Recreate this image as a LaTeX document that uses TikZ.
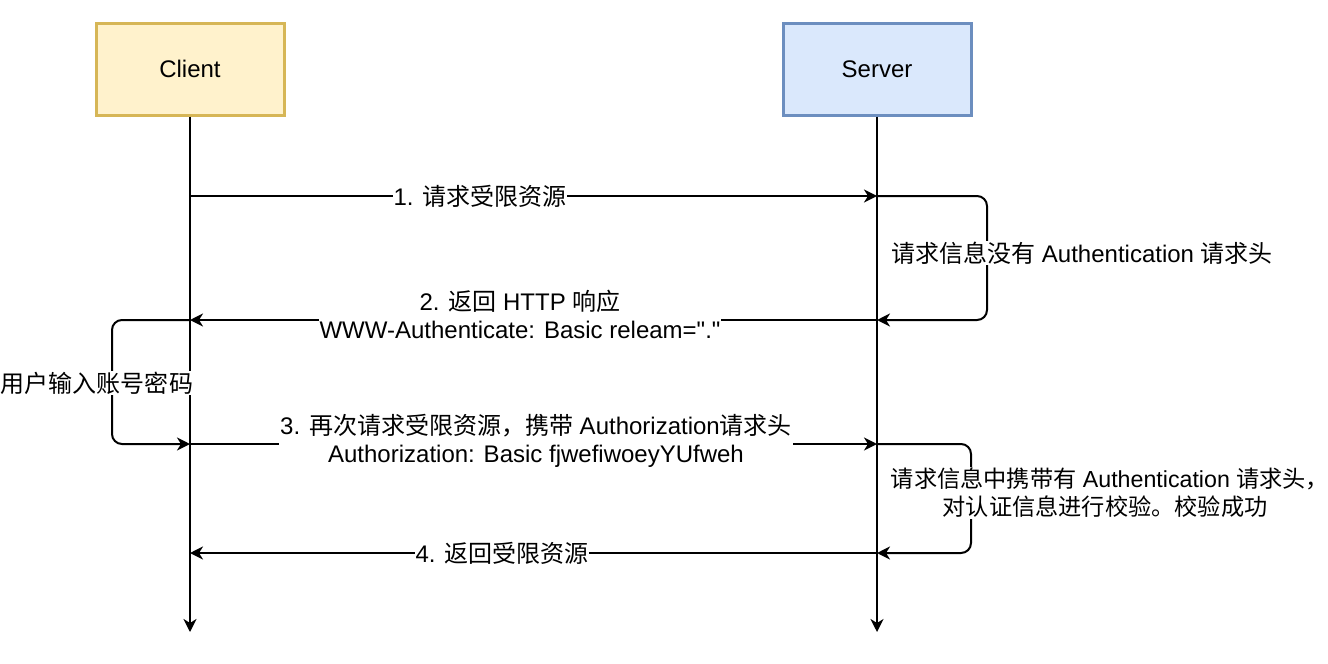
\documentclass[tikz,border=0pt]{standalone}
\usepackage{fontspec}
\setmainfont{Liberation Sans}[Ligatures=TeXOff]
\newfontfamily\cjk{Noto Sans CJK SC}
\usetikzlibrary{arrows.meta}
\definecolor{clientFill}{HTML}{FFF2CC}
\definecolor{clientLine}{HTML}{D6B656}
\definecolor{serverFill}{HTML}{DAE8FC}
\definecolor{serverLine}{HTML}{6C8EBF}

\begin{document}
\begin{tikzpicture}[x=0.5pt, y=-0.5pt, line width=1pt,
        font=\fontsize{12}{14}\selectfont,
        >={Stealth[length=6.5pt, width=6.5pt, inset=2pt]},
        actor/.style={draw, line width=1.5pt, minimum width=94pt, minimum height=46pt},
        lbl/.style={fill=white, inner sep=0.5pt, align=center},
        loop/.style={->, rounded corners=5pt}]
        \useasboundingbox (0, 0) rectangle (1328, 664);
        \node[actor, fill=clientFill, draw=clientLine] (client) at (190, 69) {Client};
        \node[actor, fill=serverFill, draw=serverLine] (server) at (877, 69) {Server};
        %lifelines
        \coordinate (cEnd) at (190, 632);
        \coordinate (sEnd) at (877, 632);
        \draw[->] (client) -- (cEnd);
        \draw[->] (server) -- (sEnd);
        \coordinate (c1) at (190, 196);
        \coordinate (s1) at (877, 196);
        \coordinate (c2) at (190, 320);
        \coordinate (s2) at (877, 320);
        \coordinate (c3) at (190, 444);
        \coordinate (s3) at (877, 444);
        \coordinate (c4) at (190, 553);
        \coordinate (s4) at (877, 553);
        %messages
        \draw[->] (c1) -- (s1);
        \draw[loop] (s1) -- ++(110, 0) |- (s2);
        \draw[->] (s2) -- (c2);
        \draw[loop] (c2) -- ++(-78, 0) |- (c3);
        \draw[->] (c3) -- (s3);
        \draw[loop] (s3) -- ++(94, 0) |- (s4);
        \draw[->] (s4) -- (c4);
        %labels
        \node[lbl] (m1) at (480, 196) {1. {\cjk 请求受限资源}};
        \node[lbl] (n1) at (1082, 253) {{\cjk 请求信息没有} Authentication {\cjk 请求头}};
        \node[lbl] (m2) at (520, 314) {2. {\cjk 返回} HTTP {\cjk 响应}\\WWW-Authenticate: Basic releam="."};
        \node[lbl] (n2) at (97, 383) {\cjk 用户输入账号密码};
        \node[lbl] (m3) at (536, 441) {3. {\cjk 再次请求受限资源，携带} Authorization{\cjk 请求头}\\Authorization: Basic fjwefiwoeyYUfweh};
        \node[lbl, font=\fontsize{11.6}{14}\selectfont] (n3) at (1105, 493) {{\cjk 请求信息中携带有} Authentication {\cjk 请求头，}\kern-5pt\\{\cjk 对认证信息进行校验。校验成功}};
        \node[lbl] (m4) at (502, 553) {4. {\cjk 返回受限资源}};
\end{tikzpicture}
\end{document}
